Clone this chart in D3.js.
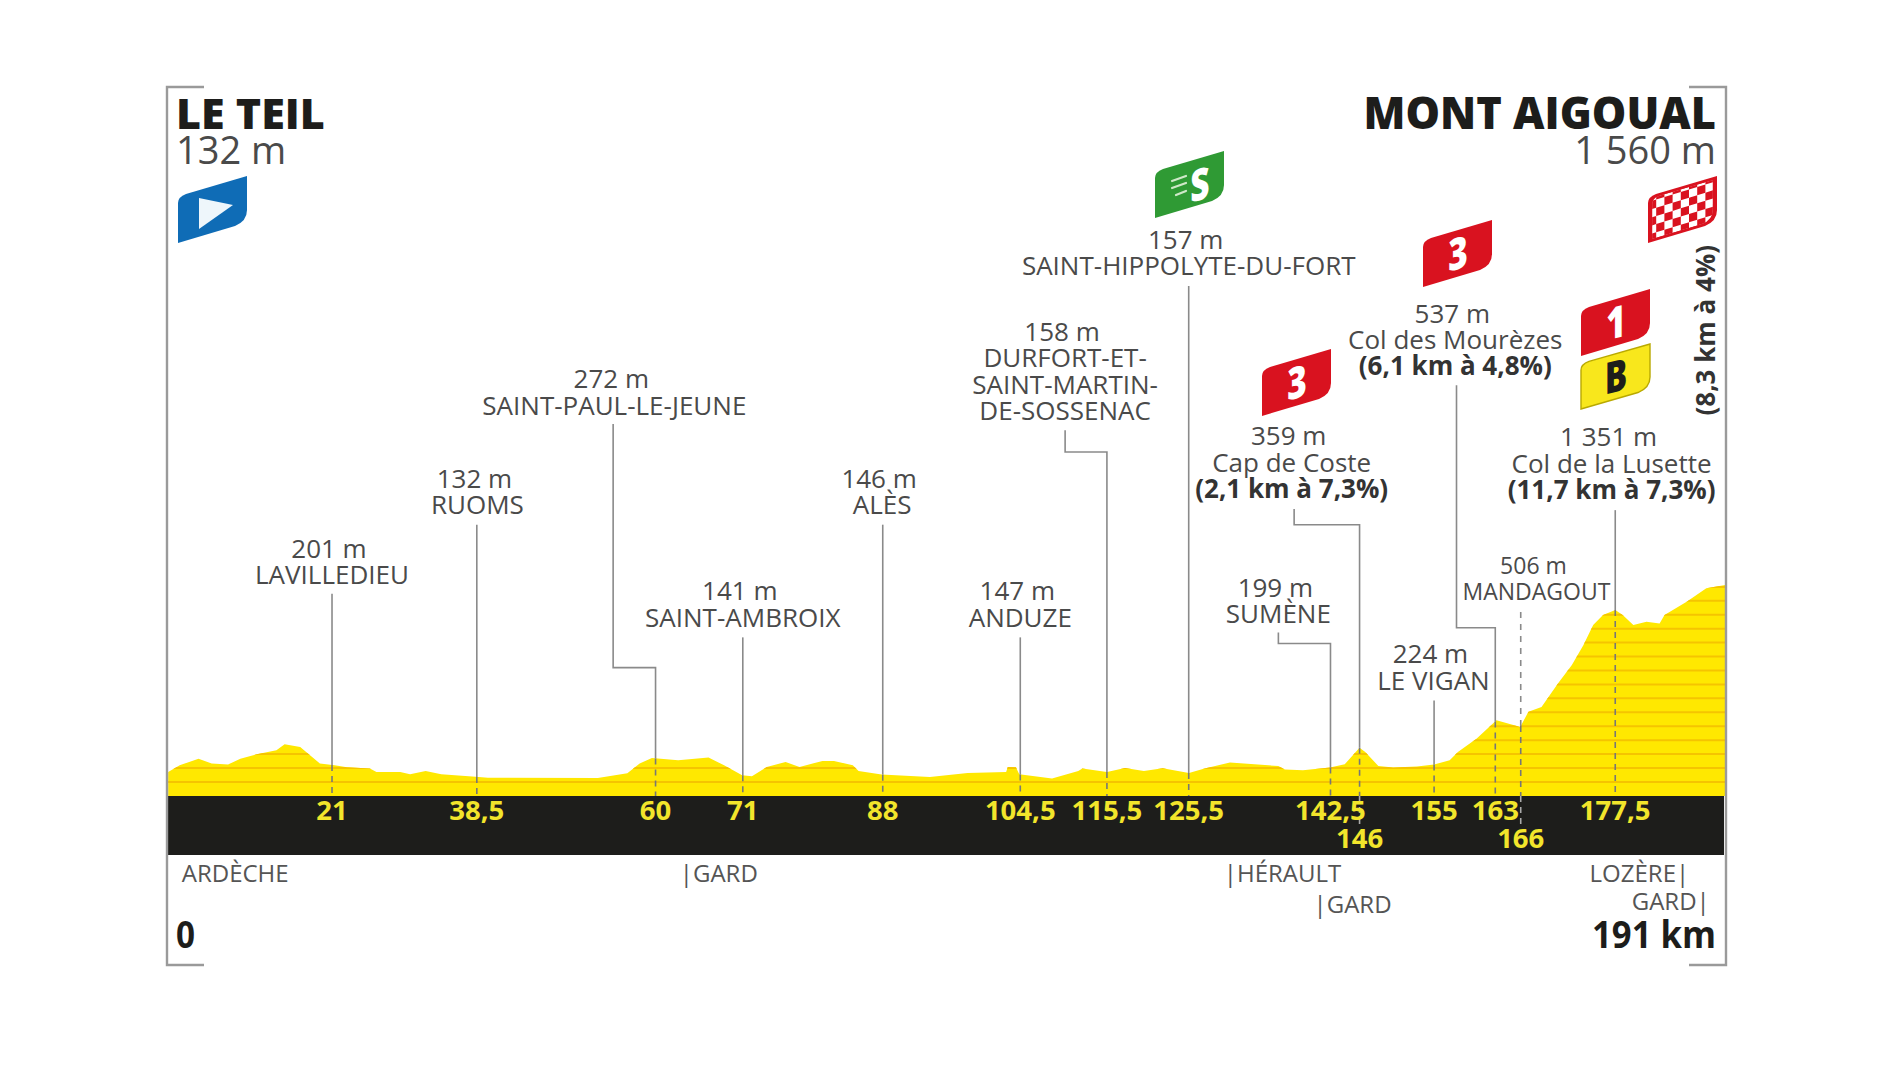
<!DOCTYPE html>
<html><head><meta charset="utf-8">
<script src="https://cdn.jsdelivr.net/npm/d3@7"></script>
<style>html,body{margin:0;background:#fff}svg{display:block}text{font-family:"Open Sans",sans-serif}</style>
</head><body><svg id="c" width="1900" height="1069"></svg>
<script>
// ---- data ----
const profileKm=[1,2.4,4.7,6.3,8.3,9.8,11.8,14.2,15.2,17.1,19.5,21.3,22.8,25.6,26.4,29.3,30.5,32.4,34.3,38.5,40,53.4,57,58.5,60,63.2,66.9,68.8,71,72.2,74,76.3,78,80.8,82.2,84.5,85.2,88,93.9,98.5,103.2,103.4,104.4,104.8,108.8,112,112.5,115.5,117.7,120,122.3,125.5,127.4,130.5,136.4,137.2,139.4,142.7,144.5,146.3,147,148.6,150.4,153.3,155.4,157.3,158.3,160.6,163,165.5,165.9,166.9,168.5,170.5,172.2,173.6,174.8,176,177.5,178.4,179.7,181.3,182.9,183.5,186.2,188.6,190.9];
const profileM=[165,214,264,227,220,264,297,327,371,351,227,214,200,190,165,165,147,172,147,128,122,120,154,227,268,252,273,214,140,132,202,239,202,247,247,214,172,145,127,157,164,202,199,147,115,172,190,164,194,172,192,157,190,235,209,182,177,197,222,345,314,209,197,206,220,252,314,414,550,508,501,613,650,825,962,1111,1261,1336,1373,1336,1261,1286,1273,1336,1435,1535,1560];
const gridM=d3.range(90,1600,104);
const placeKm=[21,38.5,60,71,88,104.5,115.5,125.5,142.5,146,155,163,166,177.5];
const placeName=[["201 m","LAVILLEDIEU"],["132 m","RUOMS"],["272 m","SAINT-PAUL-LE-JEUNE"],["141 m","SAINT-AMBROIX"],["146 m","ALÈS"],["147 m","ANDUZE"],["158 m","DURFORT-ET-","SAINT-MARTIN-","DE-SOSSENAC"],["157 m","SAINT-HIPPOLYTE-DU-FORT"],["199 m","SUMÈNE"],["359 m","Cap de Coste","(2,1 km à 7,3%)"],["224 m","LE VIGAN"],["537 m","Col des Mourèzes","(6,1 km à 4,8%)"],["506 m","MANDAGOUT"],["1 351 m","Col de la Lusette","(11,7 km à 7,3%)"]];
const kmLabel=["21","38,5","60","71","88","104,5","115,5","125,5","142,5","146","155","163","166","177,5"];
const lowerRow=["146","166"];
const startName="LE TEIL",startAlt="132 m",finishName="MONT AIGOUAL",finishAlt="1 560 m";
const lastClimb="(8,3 km à 4%)";
const deptLeft=["ARDÈCHE","|GARD","|HÉRAULT","|GARD"];
const deptRight=["LOZÈRE|","GARD|"];
const totalKm=191,maxM=1560;

// ---- layout (reference units; P converts to page pixels) ----
const P=1900/1568;
const deptLeftPos=[[150,721],[561,721],[1010,721],[1084,747]];
const deptRightPos=[[1394,721],[1411,744]];
const placeXStops=[132,274,393.5,541,613,728.5,842,913.5,981,1098,1122,1183.5,1234,1255,1333,1424];
const labelCx=[274,394,507,613,728,842,879,981,1055,1066,1183,1201,1268,1330];
const labelTop=[453,395,313,488,395,488,274,198,485,360,540,259,466,361];
const lineH=21.7;
const labelSize=[26,26,26,26,26,26,26,26,26,26,26,26,23,26];
const leaderStartY=[490,433,350,526,433,526,355,236,522,420,578,318,505,421];
const leaderElbow=[null,null,551,null,null,null,373,null,531,433,null,518,null,null];
const leaderX=[null,null,506,null,null,null,879,null,1055,1068,null,1202,null,null];

const svg=d3.select("#c");
const band={x0:168,x1:1724,top:796,bottom:855};
const frame={l:167,r:1726,t:87,b:965,arm:37};
const x=d3.scaleLinear().domain([0,totalKm]).range([160,1726]);
const xPlace=d3.scaleLinear().domain([0,...placeKm,totalKm]).range(placeXStops.map(v=>v*P));
const y=d3.scaleLinear().domain([0,maxM]).range([794,585]);
const profile=profileKm.map((k,i)=>({k,m:profileM[i]}));
const at=k=>{const i=d3.bisector(d=>d.k).left(profile,k);const a=profile[Math.max(0,i-1)],b=profile[Math.min(profile.length-1,i)];
  return b.k===a.k?a.m:a.m+(b.m-a.m)*(k-a.k)/(b.k-a.k)};

// profile
const area=d3.area().x(d=>x(d.k)).y0(band.top).y1(d=>y(d.m));
svg.append("clipPath").attr("id","pc").append("path").attr("d",area(profile));
svg.append("path").attr("d",area(profile)).attr("fill","#ffe800");
svg.append("g").attr("clip-path","url(#pc)").selectAll("line").data(gridM).join("line")
  .attr("x1",band.x0).attr("x2",band.x1+2).attr("y1",d=>y(d)).attr("y2",d=>y(d)).attr("stroke","#f5c400").attr("stroke-width",2);

// band
svg.append("rect").attr("x",band.x0).attr("y",band.top).attr("width",band.x1-band.x0).attr("height",band.bottom-band.top).attr("fill","#1d1d1b");

// frame
svg.append("path").attr("fill","none").attr("stroke","#9a9a9a").attr("stroke-width",2.4)
 .attr("d",`M${frame.l+frame.arm},${frame.t}H${frame.l}V${frame.b}H${frame.l+frame.arm}M${frame.r-frame.arm},${frame.t}H${frame.r}V${frame.b}H${frame.r-frame.arm}`);

// leaders
placeKm.forEach((k,i)=>{
  const px=xPlace(k),py=y(at(x.invert(px))),sy=leaderStartY[i]*P;
  let d;
  if(leaderElbow[i]!=null) d=`M${leaderX[i]*P},${sy}V${leaderElbow[i]*P}H${px}V${py}`;
  else d=`M${px},${sy}V${py}`;
  const l=svg.append("path").attr("d",d).attr("fill","none").attr("stroke","#8a8a8a").attr("stroke-width",1.6);
  if(k===166) l.attr("stroke-dasharray","6 6");
  svg.append("line").attr("x1",px).attr("x2",px).attr("y1",py).attr("y2",band.top).attr("stroke","#777").attr("stroke-width",1.6).attr("stroke-dasharray","6 5");
  if(lowerRow.includes(kmLabel[i]))
    svg.append("line").attr("x1",px).attr("x2",px).attr("y1",band.top).attr("y2",827).attr("stroke","#aaa").attr("stroke-width",1.6).attr("stroke-dasharray","6 5");
});

// place labels
placeName.forEach((lines,i)=>{
  lines.forEach((t,j)=>{
    const bold=t.startsWith("(");
    svg.append("text").attr("x",(labelCx[i]+(j===0?-2.5:0))*P).attr("y",(labelTop[i]+j*lineH)*P+9)
      .attr("text-anchor","middle").attr("font-size",labelSize[i])
      .attr("font-weight",bold?700:400).attr("fill",bold?"#333":"#4a4a4a").text(t);
  });
});

// km labels
kmLabel.forEach((t,i)=>{
  const low=lowerRow.includes(t);
  svg.append("text").attr("x",xPlace(placeKm[i])).attr("y",low?848:819.5).attr("text-anchor","middle")
    .attr("font-size",27.5).attr("font-weight",700).attr("fill","#f2e52b").text(t);
});

// titles
svg.append("text").attr("x",176).attr("y",128.5).attr("font-size",43).attr("font-weight",800).attr("fill","#1d1d1b").text(startName);
svg.append("text").attr("x",176).attr("y",164).attr("font-size",38).attr("fill","#4a4a4a").text(startAlt);
svg.append("text").attr("x",1716).attr("y",128.5).attr("text-anchor","end").attr("font-size",43.4).attr("font-weight",800).attr("fill","#1d1d1b").text(finishName);
svg.append("text").attr("x",1716).attr("y",164).attr("text-anchor","end").attr("font-size",38).attr("fill","#4a4a4a").text(finishAlt);

// rotated climb note
svg.append("text").attr("transform",`translate(${1418*P-3},${272.5*P}) rotate(-90)`).attr("text-anchor","middle")
  .attr("font-size",26).attr("font-weight",700).attr("fill","#333").text(lastClimb);

// departments
deptLeft.forEach((t,i)=>svg.append("text").attr("x",deptLeftPos[i][0]*P).attr("y",deptLeftPos[i][1]*P+8).attr("font-size",24).attr("fill","#555").text(t));
deptRight.forEach((t,i)=>svg.append("text").attr("x",deptRightPos[i][0]*P).attr("y",deptRightPos[i][1]*P+8).attr("text-anchor","end").attr("font-size",24).attr("fill","#555").text(t));

// distance ends
svg.append("text").attr("x",176).attr("y",948).attr("font-size",38).attr("font-weight",700).attr("fill","#1d1d1b").attr("textLength",19).attr("lengthAdjust","spacingAndGlyphs").text("0");
svg.append("text").attr("x",1592).attr("y",948).attr("font-size",38).attr("font-weight",700).attr("fill","#1d1d1b").attr("textLength",124).attr("lengthAdjust","spacingAndGlyphs").text(totalKm+" km");

// flags
const flagPath="M0,0V-40Q0,-46 8,-49L69,-67V-33Q69,-22 57,-17Z";
function flag(px,py,fill){return svg.append("g").attr("transform",`translate(${px},${py})`).call(g=>g.append("path").attr("d",flagPath).attr("fill",fill));}
function glyph(g,t,fill,cx){g.append("text").attr("transform",`translate(${cx},-18) skewY(-14) scale(.76,1)`).attr("text-anchor","middle")
  .attr("font-size",44).attr("font-weight",800).attr("fill",fill).text(t);}
const blue=flag(178,243,"#0f6cb6");
blue.append("path").attr("d","M21,-14V-45L55,-38Z").attr("fill","#eef6fb");
const green=flag(1155,218,"#2f9a34");
glyph(green,"S","#fff",45);
green.append("path").attr("d","M17,-30L31,-35M17,-37L31,-42M21,-23L31,-27").attr("stroke","#cfe8c8").attr("stroke-width",2.2).attr("stroke-linecap","round");
glyph(flag(1262,416,"#d9121f"),"3","#fff",35);
glyph(flag(1423,287,"#d9121f"),"3","#fff",35);
glyph(flag(1581,356,"#d9121f"),"1","#fff",35);
const bFlag=flag(1581,410,"#f8e71c");
bFlag.select("path").attr("stroke","#b9a900").attr("stroke-width",1.4).attr("transform","translate(0,-1) scale(1,.97)");
glyph(bFlag,"B","#1d1d1b",35);
// finish flag checks
const fin=flag(1648,243,"#d9121f");
const inner="translate(34.5,-33.5) scale(.88) translate(-34.5,33.5)";
fin.append("clipPath").attr("id","fc").append("path").attr("d",flagPath).attr("transform",inner);
const ck=fin.append("g").attr("clip-path","url(#fc)");
ck.append("path").attr("d",flagPath).attr("fill","#fff").attr("transform",inner);
const cs=8.2;
d3.range(0,9).forEach(i=>d3.range(0,8).forEach(j=>{
  if((i+j)%2===0) ck.append("rect").attr("x",i*cs).attr("y",-j*cs-cs).attr("width",cs).attr("height",cs).attr("fill","#d9121f")
    .attr("transform",`skewY(-17)`);
}));
</script></body></html>
